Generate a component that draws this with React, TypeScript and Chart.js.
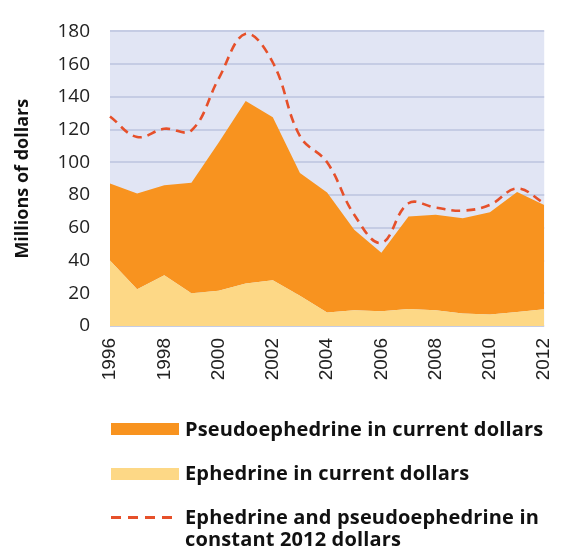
import React, { useEffect, useRef } from "react";
import { Chart, registerables } from "chart.js";

Chart.register(...registerables);

// Annual sales, millions of dollars
const years = ["1996","1997","1998","1999","2000","2001","2002","2003","2004","2005","2006","2007","2008","2009","2010","2011","2012"];
const ephedrineCurrent = [40, 22.5, 31, 20, 21.5, 26, 28, 18.5, 8.3, 9.6, 9, 10.4, 9.6, 7.6, 7, 8.6, 10.2];
const pseudoephedrineCurrent = [47, 58.5, 55, 67.5, 90.5, 111.5, 99.5, 75, 73.2, 49.2, 35.8, 56.5, 58.3, 58.3, 62.5, 73.3, 63.7];
const totalConstant2012 = [128, 115.5, 120.5, 119.5, 151, 178.5, 161, 116, 100, 68, 50.8, 75, 72.3, 70.5, 74, 84, 75];
const yTicks = [0, 20, 40, 60, 80, 100, 120, 140, 160, 180];

const ORANGE = "#F8931F";
const LIGHT = "#FDD886";
const DASH = "#E6502A";
const PLOT_BG = "#E1E5F4";
const GRID = "#C5CCE4";

const plotBackground = {
  id: "plotBackground",
  beforeDraw(chart: any) {
    const { ctx, chartArea } = chart;
    if (!chartArea) return;
    ctx.save();
    ctx.fillStyle = PLOT_BG;
    ctx.fillRect(chartArea.left, chartArea.top, chartArea.right - chartArea.left, chartArea.bottom - chartArea.top);
    ctx.restore();
  },
};

const CANVAS_H = 395;
const PLOT_BOTTOM = 326;

function SalesChart() {
  const ref = useRef<HTMLCanvasElement | null>(null);
  useEffect(() => {
    if (!ref.current) return;
    const chart = new Chart(ref.current, {
      type: "line",
      data: {
        labels: years,
        datasets: [
          {
            label: "Ephedrine in current dollars",
            data: ephedrineCurrent,
            backgroundColor: LIGHT,
            borderWidth: 0,
            borderColor: LIGHT,
            pointRadius: 0,
            fill: "origin",
            stack: "current",
            tension: 0,
            order: 1,
          },
          {
            label: "Pseudoephedrine in current dollars",
            data: pseudoephedrineCurrent,
            backgroundColor: ORANGE,
            borderWidth: 0,
            borderColor: ORANGE,
            pointRadius: 0,
            fill: "-1",
            stack: "current",
            tension: 0,
            order: 2,
          },
          {
            label: "Ephedrine and pseudoephedrine in constant 2012 dollars",
            data: totalConstant2012,
            borderColor: DASH,
            borderWidth: 2.6,
            borderDash: [9, 6],
            pointRadius: 0,
            fill: false,
            stack: "constant",
            tension: 0.4,
            order: 0,
          },
        ],
      },
      options: {
        animation: false,
        responsive: true,
        maintainAspectRatio: false,
        layout: { padding: { top: 27, right: 11, bottom: 0, left: 0 } },
        plugins: {
          legend: { display: false },
          tooltip: { enabled: false },
        },
        scales: {
          x: {
            type: "category",
            offset: false,
            grid: { display: false, drawTicks: false },
            border: { display: false },
            ticks: {
              autoSkip: false,
              minRotation: 90,
              maxRotation: 90,
              padding: 12,
              color: "#222",
              font: { family: "'Liberation Sans', Arial, sans-serif", size: 19 },
              callback: (_v: any, i: number) => (i % 2 === 0 ? years[i] : ""),
            },
            afterFit: (scale: any) => {
              scale.height = CANVAS_H - PLOT_BOTTOM;
            },
          },
          y: {
            stacked: true,
            min: 0,
            max: 180,
            afterBuildTicks: (scale: any) => {
              scale.ticks = yTicks.map((v) => ({ value: v }));
            },
            grid: { color: GRID, lineWidth: 2, drawTicks: false },
            border: { display: false },
            ticks: {
              padding: 20,
              color: "#222",
              font: { family: "'Open Sans', sans-serif", size: 19 },
            },
            title: {
              display: true,
              text: "Millions of dollars",
              color: "#111",
              padding: { top: 12, bottom: 0 },
              font: { family: "'Open Sans', sans-serif", size: 18, weight: "bold" },
            },
            afterFit: (scale: any) => {
              scale.width = 110;
            },
          },
        },
      },
      plugins: [plotBackground],
    });
    return () => chart.destroy();
  }, []);
  return (
    <div style={{ position: "absolute", left: 0, top: 0, width: 579, height: CANVAS_H }}>
      <canvas ref={ref} />
    </div>
  );
}

const legendText: React.CSSProperties = {
  position: "absolute",
  left: 185,
  fontFamily: "'Open Sans', sans-serif",
  fontWeight: 700,
  fontSize: 20,
  letterSpacing: 0.15,
  lineHeight: "24px",
  color: "#111",
  whiteSpace: "nowrap",
};

function Legend() {
  return (
    <div style={{ position: "absolute", left: 0, top: 0, width: 579, height: 549 }}>
      <div style={{ position: "absolute", left: 111, top: 423, width: 68, height: 12, background: ORANGE }} />
      <div style={{ ...legendText, top: 417 }}>Pseudoephedrine in current dollars</div>
      <div style={{ position: "absolute", left: 111, top: 468, width: 68, height: 12, background: LIGHT }} />
      <div style={{ ...legendText, top: 461 }}>Ephedrine in current dollars</div>
      <svg style={{ position: "absolute", left: 111, top: 512, overflow: "visible" }} width={64} height={10}>
        <line x1={0} y1={5.5} x2={63} y2={5.5} stroke={DASH} strokeWidth={3} strokeDasharray="10 7" />
      </svg>
      <div style={{ ...legendText, top: 506, lineHeight: "22px" }}>
        Ephedrine and pseudoephedrine in
        <br />
        constant 2012 dollars
      </div>
    </div>
  );
}

export default function App() {
  return (
    <div style={{ position: "absolute", left: 0, top: 0, width: 579, height: 549, background: "#fff" }}>
      <SalesChart />
      <Legend />
    </div>
  );
}
